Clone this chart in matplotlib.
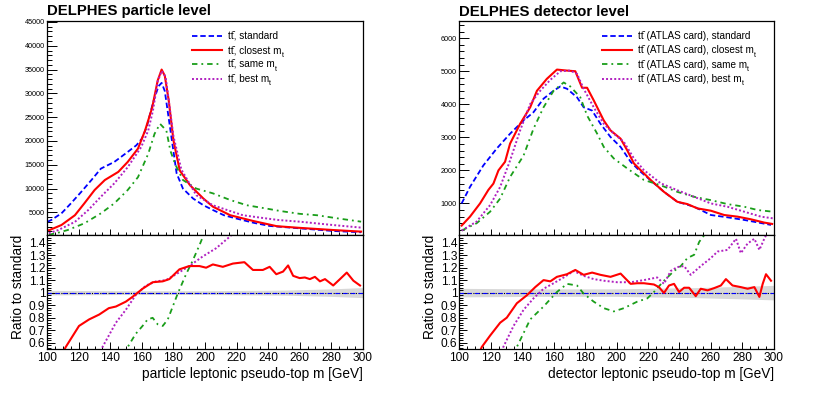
import numpy as np
import matplotlib
matplotlib.use("Agg")
import matplotlib.pyplot as plt
from matplotlib.ticker import MultipleLocator, FormatStrFormatter

plt.rcParams['font.family'] = ['Liberation Sans', 'DejaVu Sans']

# ---------------- particle level (left) ----------------
std_x = [100, 102.5, 109, 115, 121.5, 128, 134, 142.5, 151, 156.5, 160, 163, 167, 170.5, 172.5, 174.5,
         177.8, 182, 186, 192.5, 199, 205, 212, 220, 231, 241, 260, 281, 299]
std_y = [3000, 3400, 4800, 6900, 9300, 11800, 14200, 15600, 17700, 19100, 20500, 22900, 28000, 31500, 32200,
         30500, 22900, 13200, 10000, 7900, 6500, 5500, 4400, 3700, 2800, 2150, 1650, 1100, 820]

cl_x = [100, 101.5, 109, 117.5, 123.5, 130, 136.5, 145, 151, 157.5, 162, 166.5, 170, 172.5, 174.5, 177, 180,
        184, 190.5, 199, 205, 216, 230.5, 245.5, 260, 281, 299]
cl_y = [1200, 1300, 2350, 4400, 6900, 9700, 11800, 13500, 15600, 18400, 22200, 27000, 32700, 35000, 33700,
        28500, 20100, 13800, 10700, 7900, 6200, 4400, 3200, 2100, 1750, 1300, 960]

sm_x = [101, 106.5, 113, 123.5, 134, 142.5, 151, 157.5, 164, 168, 171.5, 175.5, 178, 181, 186, 194.5, 205,
        216, 226.5, 239, 247.5, 260, 271, 285, 299]
sm_y = [300, 700, 1300, 2700, 4800, 6900, 9700, 12400, 17300, 21500, 23600, 22200, 18000, 15200, 11800,
        10000, 9000, 7600, 6500, 5800, 5300, 4700, 4400, 3700, 3050]

bs_x = [101, 107, 117.5, 126, 134, 142.5, 151, 159.5, 164, 167, 170, 172.5, 175, 177, 180, 185, 194.5, 205,
        214, 224, 235, 246.5, 260, 281, 299]
bs_y = [600, 1300, 3000, 5500, 8300, 11100, 14500, 18700, 22200, 26400, 32500, 34700, 33500, 28500, 21000,
        14000, 8600, 6500, 5500, 4400, 3900, 3400, 3050, 2350, 1800]

# ratios to standard
lr_cl_x = [109, 111.7, 120.1, 126.5, 132.9, 139, 143.5, 149.8, 154, 160.4, 166.8, 173.2, 177.4, 183.8, 190,
           196.5, 200.7, 205, 211.3, 217.7, 225, 230.4, 236.7, 241, 245.2, 249.5, 252.7, 255.9, 260, 263.3,
           266.5, 269.7, 272.9, 276.1, 281.3, 285.6, 289.9, 294.1, 298.3]
lr_cl_y = [0.50, 0.566, 0.734, 0.786, 0.825, 0.876, 0.889, 0.928, 0.966, 1.031, 1.083, 1.090, 1.108, 1.186,
           1.212, 1.212, 1.199, 1.225, 1.206, 1.232, 1.243, 1.181, 1.181, 1.206, 1.147, 1.168, 1.217, 1.134,
           1.116, 1.121, 1.108, 1.126, 1.090, 1.108, 1.057, 1.108, 1.160, 1.095, 1.057]

lr_bs_x = [133, 135, 143.5, 149.8, 156, 162.6, 169, 175.3, 181.7, 190, 198.6, 207, 215.5, 220]
lr_bs_y = [0.50, 0.566, 0.76, 0.863, 0.979, 1.057, 1.09, 1.10, 1.147, 1.212, 1.289, 1.354, 1.444, 1.50]

lr_sm_x = [149.5, 151, 156, 160.4, 163.6, 166.8, 170, 173.2, 176.4, 182.7, 188, 192, 196.5, 198.6, 200]
lr_sm_y = [0.50, 0.566, 0.67, 0.734, 0.786, 0.799, 0.747, 0.734, 0.786, 0.992, 1.147, 1.25, 1.379, 1.444, 1.50]

l_band_x = [100, 150, 200, 250, 280, 300]
l_band_w = [0.018, 0.015, 0.015, 0.02, 0.03, 0.04]

# ---------------- detector level (right) ----------------
rstd_x = [101.5, 106.8, 115.3, 123.8, 132.3, 140.9, 147.2, 153.6, 160, 164.3, 168.5, 174.9, 179.1, 184.5,
          189.8, 196.2, 202.6, 209, 215.3, 221.7, 230.2, 238.7, 249.4, 260, 270.6, 281.3, 298.3]
rstd_y = [1000, 1500, 2150, 2660, 3110, 3510, 3760, 4170, 4410, 4540, 4470, 4210, 3910, 3810, 3410, 3010,
          2710, 2260, 1960, 1700, 1350, 1050, 900, 650, 580, 500, 350]

rcl_x = [101.5, 106.8, 113.2, 118.5, 121.7, 124.9, 129.1, 132.3, 138.7, 145.1, 149.4, 155.7, 162.1, 168.5,
         173.8, 178.1, 181.3, 185.5, 191.9, 196.2, 202.6, 206.8, 211.1, 215.3, 221.7, 230.2, 238.7, 245.1,
         251.5, 260, 268.5, 277, 285.5, 294, 299]
rcl_y = [330, 600, 1000, 1410, 1600, 2000, 2260, 2810, 3410, 3910, 4410, 4770, 5050, 5020, 5000, 4500, 4500,
         4120, 3510, 3210, 2960, 2610, 2210, 2010, 1710, 1350, 1050, 980, 850, 780, 650, 600, 520, 420, 380]

rsm_x = [101.5, 111, 119.6, 126, 132.3, 140.9, 147.2, 153.6, 160, 166.4, 170.6, 177, 181.3, 187.7, 191.9,
         198.3, 206.8, 217.4, 228.1, 238.7, 249.4, 260, 270.6, 281.3, 289.8, 299.4]
rsm_y = [180, 400, 750, 1150, 1800, 2450, 3260, 3910, 4410, 4660, 4540, 4210, 3660, 3110, 2710, 2360, 2060,
         1710, 1550, 1350, 1200, 1100, 980, 900, 800, 750]

rbs_x = [101.5, 111, 119.6, 126, 132.3, 138.7, 145.1, 151.5, 157.9, 164.3, 170.6, 174.9, 179.1, 185.5, 191.9,
         198.3, 204.7, 211.1, 217.4, 228.1, 238.7, 249.4, 260, 270.6, 281.3, 291.9, 299.4]
rbs_y = [180, 450, 950, 1500, 2300, 3210, 4010, 4410, 4740, 5000, 5020, 4920, 4470, 3910, 3410, 3110, 2860,
         2360, 2010, 1610, 1400, 1200, 1000, 900, 750, 600, 550]

rr_cl_x = [112, 114.3, 119.6, 126, 130.2, 136.6, 143, 148.3, 153.6, 157.9, 162.1, 168.5, 173.8, 179.1, 184.5,
           189.8, 196.2, 202.6, 209, 213.2, 217.4, 223.8, 227, 230.2, 233.4, 236.6, 239.8, 243, 246.2, 250.4,
           253.6, 257.9, 262.1, 266.4, 269.6, 273.8, 279.1, 283.4, 287.7, 290.9, 293, 295.1, 298.3]
rr_cl_y = [0.50, 0.566, 0.657, 0.76, 0.80, 0.915, 0.979, 1.044, 1.10, 1.09, 1.126, 1.147, 1.181, 1.142, 1.16,
           1.142, 1.126, 1.152, 1.07, 1.075, 1.075, 1.065, 1.044, 0.997, 1.057, 1.07, 1.005, 1.039, 1.039,
           0.972, 1.031, 1.018, 1.036, 1.057, 1.108, 1.057, 1.044, 1.031, 1.044, 0.966, 1.07, 1.147, 1.095]

rr_bs_x = [126, 128, 134.5, 140.9, 147.2, 153.6, 160, 166.4, 172.8, 179.1, 185.5, 191.9, 200.4, 209, 217.4,
           225.9, 230.2, 234.5, 238.7, 243, 247.2, 253.6, 260, 264.3, 270.6, 276, 279.1, 283.4, 287.7, 290.9,
           294, 296]
rr_bs_y = [0.50, 0.566, 0.734, 0.863, 0.954, 1.031, 1.075, 1.121, 1.173, 1.134, 1.108, 1.095, 1.083, 1.083,
           1.10, 1.121, 1.07, 1.173, 1.204, 1.212, 1.142, 1.212, 1.276, 1.328, 1.341, 1.43, 1.315, 1.392, 1.43,
           1.341, 1.43, 1.48]

rr_sm_x = [135, 136.6, 145.1, 153.6, 162.1, 168.5, 174.9, 179.1, 185.5, 191.9, 198.3, 204.7, 213.2, 219.6,
           223.8, 230.2, 236.6, 240.9, 245.1, 249.4, 252.6, 255.7, 257]
rr_sm_y = [0.50, 0.566, 0.786, 0.889, 1.005, 1.07, 1.057, 0.992, 0.928, 0.876, 0.85, 0.876, 0.928, 0.954,
           1.005, 1.095, 1.173, 1.212, 1.276, 1.302, 1.405, 1.457, 1.50]

r_band_x = [100, 150, 200, 250, 280, 300]
r_band_w = [0.034, 0.03, 0.03, 0.04, 0.05, 0.058]

BLUE = '#0000ff'
RED = '#ff0000'
GREEN = '#1a9e1a'
MAG = '#b020c0'

styles = {
    'std': dict(color=BLUE, lw=1.3, dashes=(3, 1.6)),
    'cl': dict(color=RED, lw=1.5, ls='-'),
    'sm': dict(color=GREEN, lw=1.3, dashes=(3, 2.2, 1, 2.2)),
    'bs': dict(color=MAG, lw=1.4, dashes=(1, 1.1)),
}

W, H = 822, 393
fig = plt.figure(figsize=(W / 100, H / 100), dpi=100)


def frac(x0, y0, x1, y1):
    return [x0 / W, 1 - y1 / H, (x1 - x0) / W, (y1 - y0) / H]


def style_axes(ax, xmajor_len, ymajor_len):
    for s in ax.spines.values():
        s.set_linewidth(0.9)
    ax.tick_params(which='both', direction='in', top=False, right=False)
    ax.tick_params(axis='x', which='major', length=xmajor_len, width=0.7)
    ax.tick_params(axis='x', which='minor', length=xmajor_len / 2, width=0.7)
    ax.tick_params(axis='y', which='major', length=ymajor_len, width=0.7)
    ax.tick_params(axis='y', which='minor', length=ymajor_len / 2, width=0.7)
    ax.set_xlim(100, 300)
    ax.xaxis.set_major_locator(MultipleLocator(20))
    ax.xaxis.set_minor_locator(MultipleLocator(5))


panels = [
    dict(x0=47.3, x1=362.7, title='DELPHES particle level', prefix='',
         curves=[(std_x, std_y, 'std'), (cl_x, cl_y, 'cl'), (sm_x, sm_y, 'sm'), (bs_x, bs_y, 'bs')],
         ratios=[(lr_sm_x, lr_sm_y, 'sm'), (lr_bs_x, lr_bs_y, 'bs'), (lr_cl_x, lr_cl_y, 'cl')],
         band=(l_band_x, l_band_w), ylim=(250, 45200), ymaj=5000, ymin=1000, leg_px=191.7,
         xlabel='particle leptonic pseudo-top m [GeV]'),
    dict(x0=459.3, x1=773.7, title='DELPHES detector level', prefix=' (ATLAS card)',
         curves=[(rstd_x, rstd_y, 'std'), (rcl_x, rcl_y, 'cl'), (rsm_x, rsm_y, 'sm'), (rbs_x, rbs_y, 'bs')],
         ratios=[(rr_sm_x, rr_sm_y, 'sm'), (rr_bs_x, rr_bs_y, 'bs'), (rr_cl_x, rr_cl_y, 'cl')],
         band=(r_band_x, r_band_w), ylim=(45, 6520), ymaj=1000, ymin=200, leg_px=601.7,
         xlabel='detector leptonic pseudo-top m [GeV]'),
]

TTBAR = 'tt\u0304'
names = {'std': 'standard', 'cl': 'closest m', 'sm': 'same m', 'bs': 'best m'}
TOP_Y0, TOP_Y1, RAT_Y1 = 21, 235, 349

for p in panels:
    top = fig.add_axes(frac(p['x0'], TOP_Y0, p['x1'], TOP_Y1))
    rat = fig.add_axes(frac(p['x0'], TOP_Y1, p['x1'], RAT_Y1), sharex=top)

    for xs, ys, key in p['curves']:
        top.plot(xs, ys, **styles[key])
    style_axes(top, 4, 7)
    top.set_ylim(*p['ylim'])
    top.yaxis.set_major_locator(MultipleLocator(p['ymaj']))
    top.yaxis.set_minor_locator(MultipleLocator(p['ymin']))
    top.yaxis.set_major_formatter(FormatStrFormatter('%d'))
    top.tick_params(axis='y', labelsize=5.2, pad=2)
    top.tick_params(axis='x', labelbottom=False)

    # legend drawn by hand (ROOT TLegend look)
    aw = p['x1'] - p['x0']
    ah = TOP_Y1 - TOP_Y0
    hx0 = (p['leg_px'] - p['x0']) / aw
    hx1 = (p['leg_px'] + 30 - p['x0']) / aw
    tx = (p['leg_px'] + 36 - p['x0']) / aw
    for i, key in enumerate(['std', 'cl', 'sm', 'bs']):
        ypx = 35.7 + 14.3 * i
        ya = (TOP_Y1 - ypx) / ah
        top.plot([hx0, hx1], [ya, ya], transform=top.transAxes, clip_on=False, **styles[key])
        t = top.text(tx, (TOP_Y1 - ypx - 3.3) / ah, TTBAR + p['prefix'] + ', ' + names[key],
                     transform=top.transAxes, fontsize=7.2, ha='left', va='baseline')
        if key != 'std':
            # subscript t of m_t
            top.annotate('t', xy=(1, 0), xycoords=t, xytext=(0.3, -0.9), textcoords='offset points',
                         fontsize=5.2, ha='left', va='baseline')

    fig.text(p['x0'] / W, 1 - 15.5 / H, p['title'], fontsize=10.7, fontweight='bold', ha='left', va='baseline')

    bx, bw = p['band']
    rat.fill_between(bx, 1 - np.array(bw), 1 + np.array(bw), color='#d8d8d8', lw=0)
    rat.axhline(1, color='black', lw=0.8, ls=(0, (1, 1.5)))
    rat.axhline(1, color=BLUE, lw=0.8, ls=(0, (4, 3)))
    for xs, ys, key in p['ratios']:
        rat.plot(xs, ys, **styles[key])
    style_axes(rat, 5, 6)
    rat.set_ylim(0.55, 1.46)
    rat.yaxis.set_major_locator(MultipleLocator(0.1))
    rat.yaxis.set_minor_locator(MultipleLocator(0.02))
    rat.yaxis.set_major_formatter(FormatStrFormatter('%g'))
    rat.tick_params(axis='both', labelsize=8.6, pad=1.5)
    rat.tick_params(axis='x', pad=2)
    rat.set_xlabel(p['xlabel'], fontsize=9.8, loc='right', labelpad=2)
    rat.set_ylabel('Ratio to standard', fontsize=9.8, loc='top', labelpad=3)

fig.savefig('out.png', dpi=100)
